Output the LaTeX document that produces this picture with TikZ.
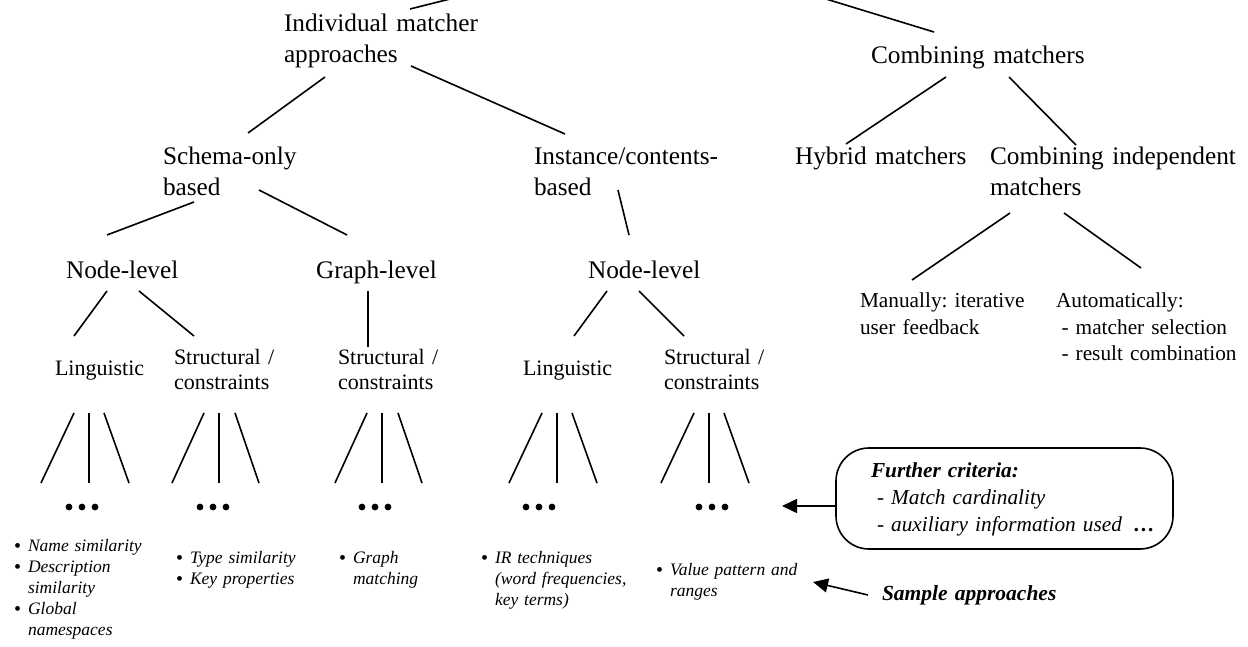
\documentclass[tikz,border=0pt]{standalone}
\usepackage{fontspec}
\setmainfont{Liberation Serif}
\usetikzlibrary{arrows.meta}
\frenchspacing

% bullet and hanging indent for the sample-approach lists
\newcommand{\lbul}{\makebox[14pt][l]{\upshape\raisebox{-1.6pt}{\fontsize{20pt}{20pt}\selectfont\textbullet}}}
\newcommand{\lcont}{\hspace*{14pt}}

\begin{document}
\begin{tikzpicture}[x=1pt, y=-1pt,
  every node/.style={inner sep=0pt, outer sep=0pt},
  lbl/.style={anchor=base west, text width=330pt, align=left},
  big/.style={lbl, font=\fontsize{25.3pt}{31pt}\selectfont},
  mid/.style={lbl, font=\fontsize{22pt}{25.5pt}\selectfont},
  small/.style={lbl, font=\fontsize{21.3pt}{27pt}\selectfont},
  sample/.style={lbl, font=\fontsize{17.5pt}{21pt}\selectfont\itshape},
  dotrow/.style={minimum width=36pt, minimum height=8pt},
  link/.style={line width=1.6pt},
  pointer/.style={line width=1.6pt, -{Triangle[length=15pt,width=14pt]}},
]
\useasboundingbox (0,0) rectangle (1248,647);

% parents above the shown part of the tree
\coordinate (upL) at (454,-2);
\coordinate (upR) at (826,-1);

% ---- labels of the tree
\node[big] (ind)  at (284,32)  {Individual matcher\\approaches};
\node[big] (comb) at (871,64)  {Combining matchers};
\node[big] (sch)  at (163,165) {Schema-only\\based};
\node[big] (inst) at (534,165) {Instance/contents-\\based};
\node[big] (hyb)  at (795,165) {Hybrid matchers};
\node[big] (cind) at (990,165) {Combining independent\\matchers};
\node[big] (nl1)  at (66,278)  {Node-level};
\node[big] (gl)   at (316,278) {Graph-level};
\node[big] (nl2)  at (588,278) {Node-level};

\node[mid] (ling1) at (55,375)  {Linguistic};
\node[mid] (str1)  at (174,364) {Structural /\\constraints};
\node[mid] (str2)  at (338,364) {Structural /\\constraints};
\node[mid] (ling2) at (523,375) {Linguistic};
\node[mid] (str3)  at (664,364) {Structural /\\constraints};

\node[small] (man)  at (860,307)  {Manually: iterative\\user feedback};
\node[small] (auto) at (1056,307) {Automatically:\\\hspace*{5.5pt}- matcher selection\\\hspace*{5.5pt}- result combination};

% ---- elided children
\node[dotrow] (d1) at (82,507)  {};
\node[dotrow] (d2) at (213,507) {};
\node[dotrow] (d3) at (375,507) {};
\node[dotrow] (d4) at (539,507) {};
\node[dotrow] (d5) at (712,507) {};
\foreach \dn in {d1,d2,d3,d4,d5}
  \foreach \k in {-13,0,13}
    \fill ([xshift=\k pt]\dn.center) circle (3.4pt);

% ---- sample approaches
\node[sample] (l1) at (14,551)  {\lbul Name similarity\\\lbul Description\\\lcont similarity\\\lbul Global\\\lcont namespaces};
\node[sample] (l2) at (176,563) {\lbul Type similarity\\\lbul Key properties};
\node[sample] (l3) at (339,563) {\lbul Graph\\\lcont matching};
\node[sample] (l4) at (481,563) {\lbul IR techniques\\\lcont (word frequencies,\\\lcont key terms)};
\node[sample] (l5) at (656,575) {\lbul Value pattern and\\\lcont ranges};

% ---- side notes
\node[draw, line width=1.6pt, rounded corners=33pt, minimum width=337pt, minimum height=101pt] (crit) at (1004.5,498.5) {};
\node[lbl, font=\fontsize{21.3pt}{27pt}\selectfont] (critx) at (871,477)
  {\textbf{\textit{Further criteria:}}\\\hspace*{6pt}\textit{- Match cardinality}\\\hspace*{6pt}\textit{- auxiliary information used}\hspace{11pt}\textbf{…}};
\node[lbl, font=\fontsize{21.5pt}{26pt}\selectfont\bfseries\itshape] (samp) at (882,600) {Sample approaches};

% ---- tree edges
\draw[link] ([shift={(126,-23)}]ind.base west) -- (upL);
\draw[link] ([shift={(63,-32)}]comb.base west) -- (upR);
\draw[link] ([shift={(41,45)}]ind.base west)  -- ([shift={(85,-32)}]sch.base west);
\draw[link] ([shift={(127,34)}]ind.base west) -- ([shift={(31,-31)}]inst.base west);
\draw[link] ([shift={(75,13)}]comb.base west) -- ([shift={(51,-21)}]hyb.base west);
\draw[link] ([shift={(138,13)}]comb.base west) -- ([shift={(86,-20)}]cind.base west);
\draw[link] ([shift={(31,37)}]sch.base west)  -- ([shift={(41,-43)}]nl1.base west);
\draw[link] ([shift={(96,25)}]sch.base west)  -- ([shift={(31,-43)}]gl.base west);
\draw[link] ([shift={(84,25)}]inst.base west) -- ([shift={(41,-43)}]nl2.base west);
\draw[link] ([shift={(20,48)}]cind.base west) -- ([shift={(52,-27)}]man.base west);
\draw[link] ([shift={(74,48)}]cind.base west) -- ([shift={(85,-39)}]auto.base west);
\draw[link] ([shift={(41,13)}]nl1.base west)  -- ([shift={(19,-39)}]ling1.base west);
\draw[link] ([shift={(73,13)}]nl1.base west)  -- ([shift={(20,-28)}]str1.base west);
\draw[link] ([shift={(52,13)}]gl.base west)   -- ([shift={(30,-17)}]str2.base west);
\draw[link] ([shift={(19,13)}]nl2.base west)  -- ([shift={(51,-39)}]ling2.base west);
\draw[link] ([shift={(51,13)}]nl2.base west)  -- ([shift={(20,-28)}]str3.base west);

% three edges from each leaf category down to its elided children
\foreach \pn/\dn/\ty/\ta/\tb/\tc/\ba/\bb/\bc in {
    ling1/d1/38/19/34/49/-41/7/47,
    str1/d2/49/30/45/61/-41/6/46,
    str2/d3/49/29/44/60/-40/7/47,
    ling2/d4/38/19/34/49/-30/18/58,
    str3/d5/49/30/45/60/-51/-3/37}{
  \draw[link] ([shift={(\ta,\ty)}]\pn.base west) -- ([shift={(\ba,-24)}]\dn.center);
  \draw[link] ([shift={(\tb,\ty)}]\pn.base west) -- ([shift={(\bb,-24)}]\dn.center);
  \draw[link] ([shift={(\tc,\ty)}]\pn.base west) -- ([shift={(\bc,-24)}]\dn.center);
}

% ---- pointers from the side notes
\draw[pointer] ([yshift=-7.5pt]crit.west) -- ([shift={(70,-1)}]d5.center);
\draw[pointer] ([shift={(-14,-5)}]samp.base west) -- ([shift={(157,7)}]l5.base west);
\end{tikzpicture}
\end{document}
